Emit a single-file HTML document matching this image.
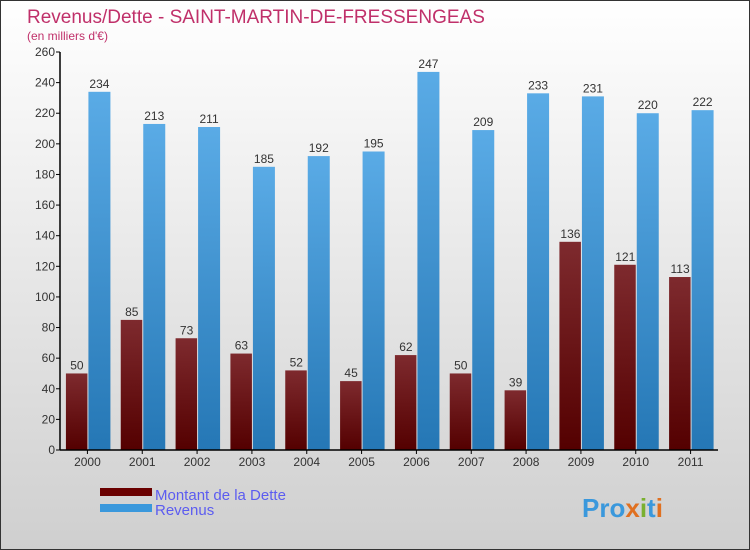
<!DOCTYPE html>
<html><head><meta charset="utf-8"><style>
body{margin:0;}
#wrap{position:relative;width:750px;height:550px;overflow:hidden;}
svg text{font-family:"Liberation Sans",sans-serif;}
</style></head><body>
<div id="wrap">
<svg id="chart" width="750" height="550" xmlns="http://www.w3.org/2000/svg">
<defs>
<linearGradient id="bg" x1="0" y1="0" x2="0" y2="1"><stop offset="0" stop-color="#ffffff"/><stop offset="1" stop-color="#cfcfcf"/></linearGradient>
<linearGradient id="gd" x1="0" y1="0" x2="0" y2="1"><stop offset="0" stop-color="#7e2a2e"/><stop offset="1" stop-color="#540000"/></linearGradient>
<linearGradient id="gr" x1="0" y1="0" x2="0" y2="1"><stop offset="0" stop-color="#5aabe6"/><stop offset="1" stop-color="#2577b5"/></linearGradient>
</defs>
<rect x="0.5" y="0.5" width="749" height="549" fill="url(#bg)" stroke="#333"/>
<text x="27" y="23" font-size="19" fill="#c0306a">Revenus/Dette - SAINT-MARTIN-DE-FRESSENGEAS</text>
<text x="27" y="40" font-size="12" fill="#c0306a">(en milliers d'€)</text>
<g id="plot"></g>
<rect x="100" y="488" width="52" height="8" fill="#6a0000"/>
<text x="155" y="500" font-size="15" fill="#5c5cf0">Montant de la Dette</text>
<rect x="100" y="504" width="52" height="8" fill="#3a98dc"/>
<text x="155" y="515" font-size="15" fill="#5c5cf0">Revenus</text>
<text x="582" y="517" font-size="26" font-weight="bold" fill="#3a98dc">Pro<tspan fill="#e07020">x</tspan><tspan fill="#7ab030">i</tspan>t<tspan fill="#e07020">i</tspan></text>
</svg>
</div>
<script>
const years=["2000","2001","2002","2003","2004","2005","2006","2007","2008","2009","2010","2011"];
const dette=[50,85,73,63,52,45,62,50,39,136,121,113];
const revenus=[234,213,211,185,192,195,247,209,233,231,220,222];
const yTicks=[0,20,40,60,80,100,120,140,160,180,200,220,240,260];
const NS="http://www.w3.org/2000/svg";
const g=document.getElementById('plot');
const x0=60,x1=718,y0=450,y1=52,ymax=260;
const bw=(x1-x0)/years.length;
const Y=v=>y0-(v/ymax)*(y0-y1);
function mk(t,a,txt){const e=document.createElementNS(NS,t);for(const k in a)e.setAttribute(k,a[k]);if(txt!==undefined)e.textContent=txt;g.appendChild(e);return e;}
years.forEach((yr,i)=>{
  const c=x0+bw*(i+0.5);
  let r=mk('rect',{x:c-21.5,y:Y(dette[i]),width:21.5,height:y0-Y(dette[i]),fill:'url(#gd)'});
  
  
  r=mk('rect',{x:c+1,y:Y(revenus[i]),width:22,height:y0-Y(revenus[i]),fill:'url(#gr)'});
  
  
  let t=mk('text',{x:c-10.5,y:Y(dette[i])-4,'font-size':12,fill:'#333','text-anchor':'middle'},dette[i]);
  
  
  t=mk('text',{x:c+12,y:Y(revenus[i])-4,'font-size':12,fill:'#333','text-anchor':'middle'},revenus[i]);
  
  
  t=mk('text',{x:c,y:466,'font-size':12,fill:'#333','text-anchor':'middle'},yr);
  
  
  const tk=mk('line',{x1:c,x2:c,y1:y0,y2:y0+4,stroke:'#000'});
  
  
});
yTicks.forEach(v=>{
  const l=mk('line',{x1:x0-4,x2:x0,y1:Y(v),y2:Y(v),stroke:'#000'});
  
  
  const t=mk('text',{x:x0-5,y:Y(v)+4,'font-size':12,fill:'#333','text-anchor':'end'},v);
  
  
});
let a=mk('line',{x1:x0,x2:x0,y1:y1,y2:y0,stroke:'#000','stroke-width':1.5});


a=mk('line',{x1:x0,x2:x1,y1:y0,y2:y0,stroke:'#000','stroke-width':1.5});


</script>
</body></html>
